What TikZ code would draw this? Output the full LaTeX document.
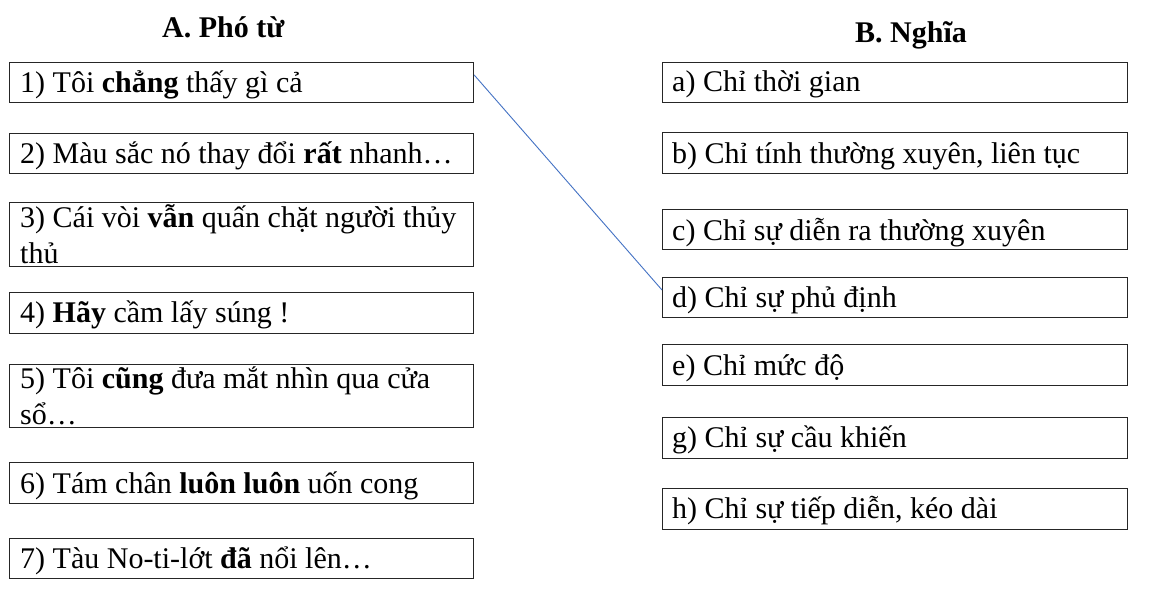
\documentclass[tikz,border=0pt]{standalone}
\usepackage{fontspec}
\setmainfont{Liberation Serif}
\usetikzlibrary{calc}
\tikzset{
  box/.style={draw=black!85, line width=1.2pt, rectangle, inner sep=0pt, anchor=north west},
  lbox/.style={box, minimum width=464pt},
  rbox/.style={box, minimum width=465pt},
  txt/.style={anchor=base west, inner sep=0pt, font=\fontsize{30}{36}\selectfont},
  ttl/.style={anchor=base west, inner sep=0pt, font=\fontsize{30}{36}\selectfont\bfseries},
  link/.style={draw={rgb,255:red,68;green,114;blue,196}, line width=0.9pt}
}
\begin{document}
\begin{tikzpicture}[x=1pt,y=-1pt]
\useasboundingbox[fill=white] (0,0) rectangle (1172,607);
% titles
\node[ttl] (ta) at (162,38) {A. Phó từ};
\node[ttl] (tb) at (855,43) {B. Nghĩa};
% left column
\node[lbox, minimum height=40pt] (b1) at (9,62) {};
\node[txt] (t1) at (20,93) {1) Tôi \textbf{chẳng} thấy gì cả};
\node[lbox, minimum height=40pt] (b2) at (9,133) {};
\node[txt] (t2) at (20,163) {2) Màu sắc nó thay đổi \textbf{rất} nhanh…};
\node[lbox, minimum height=64pt] (b3) at (9,202) {};
\node[txt] (t3a) at (20,227) {3) Cái vòi \textbf{vẫn} quấn chặt người thủy};
\node[txt] (t3b) at (20,263) {thủ};
\node[lbox, minimum height=41pt] (b4) at (9,292) {};
\node[txt] (t4) at (20,322) {4) \textbf{Hãy} cầm lấy súng !};
\node[lbox, minimum height=63pt] (b5) at (9,364) {};
\node[txt] (t5a) at (20,388) {5) Tôi \textbf{cũng} đưa mắt nhìn qua cửa};
\node[txt] (t5b) at (20,424) {sổ…};
\node[lbox, minimum height=41pt] (b6) at (9,462) {};
\node[txt] (t6) at (20,493) {6) Tám chân \textbf{luôn luôn} uốn cong};
\node[lbox, minimum height=40pt] (b7) at (9,538) {};
\node[txt] (t7) at (20,568) {7) Tàu No-ti-lớt \textbf{đã} nổi lên…};
% right column
\node[rbox, minimum height=40pt] (ba) at (662,62) {};
\node[txt] (tta) at (672,92) {a) Chỉ thời gian};
\node[rbox, minimum height=41pt] (bb) at (662,132) {};
\node[txt] (ttb) at (672,163) {b) Chỉ tính thường xuyên, liên tục};
\node[rbox, minimum height=40pt] (bc) at (662,209) {};
\node[txt] (ttc) at (672,240) {c) Chỉ sự diễn ra thường xuyên};
\node[rbox, minimum height=40pt] (bd) at (662,277) {};
\node[txt] (ttd) at (672,307) {d) Chỉ sự phủ định};
\node[rbox, minimum height=41pt] (be) at (662,344) {};
\node[txt] (tte) at (672,375) {e) Chỉ mức độ};
\node[rbox, minimum height=41pt] (bg) at (662,417) {};
\node[txt] (ttg) at (672,447) {g) Chỉ sự cầu khiến};
\node[rbox, minimum height=41pt] (bh) at (662,488) {};
\node[txt] (tth) at (672,518) {h) Chỉ sự tiếp diễn, kéo dài};
% connector
\draw[link] ($(b1.north east)+(0,13)$) -- ($(bd.north west)+(0,13)$);
\end{tikzpicture}
\end{document}
